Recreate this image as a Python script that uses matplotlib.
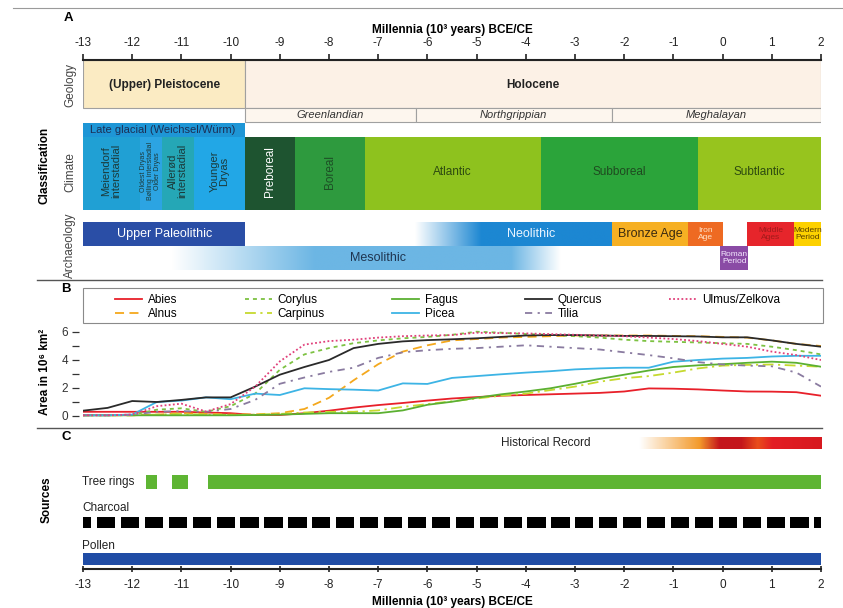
import numpy as np
import matplotlib
matplotlib.use('Agg')
import matplotlib.pyplot as plt
from matplotlib.patches import Rectangle
from matplotlib.lines import Line2D
from matplotlib.colors import LinearSegmentedColormap, to_rgb

plt.rcParams['font.family'] = ['Liberation Sans', 'DejaVu Sans']
plt.rcParams['axes.unicode_minus'] = False

W, H = 843, 608

# ---------------- classification (millennia BCE/CE) ----------------
geology_names = ['(Upper) Pleistocene', 'Holocene']
geology_start = [-13, -9.7]
geology_end = [-9.7, 2]

stage_names = ['Greenlandian', 'Northgrippian', 'Meghalayan']
stage_start = [-9.7, -6.24, -2.25]
stage_end = [-6.24, -2.25, 2]

glacial_names = ['Meiendorf\ninterstadial', 'Oldest Dryas\nBølling interstadial\nOlder Dryas',
                 'Allerød\ninterstadial', 'Younger\nDryas']
glacial_start = [-13, -11.85, -11.4, -10.75]
glacial_end = [-11.85, -11.4, -10.75, -9.7]

climate_names = ['Preboreal', 'Boreal', 'Atlantic', 'Subboreal', 'Subtlantic']
climate_start = [-9.7, -8.7, -7.27, -3.7, -0.5]
climate_end = [-8.7, -7.27, -3.7, -0.5, 2]

period_names = ['Upper Paleolithic', 'Bronze Age', 'Iron\nAge', 'Middle\nAges', 'Modern\nPeriod']
period_start = [-13, -2.25, -0.7, 0.5, 1.45]
period_end = [-9.7, -0.7, 0.0, 1.45, 2]

neolithic_span = [-6.25, -2.25]
mesolithic_span = [-11.2, -3.3]
roman_span = [-0.05, 0.52]

# ---------------- tree cover area (10^6 km2) ----------------
millennia = [-13, -12.5, -12, -11.5, -11, -10.5, -10, -9.5, -9, -8.5, -8, -7.5, -7, -6.5, -6,
             -5.5, -5, -4.5, -4, -3.5, -3, -2.5, -2, -1.5, -1, -0.5, 0, 0.5, 1, 1.5, 2]
abies = [0.3, 0.3, 0.3, 0.3, 0.3, 0.25, 0.2, 0.07, 0.07, 0.2, 0.38, 0.6, 0.78, 0.93, 1.1,
         1.25, 1.35, 1.45, 1.5, 1.55, 1.6, 1.65, 1.75, 1.97, 1.95, 1.9, 1.82, 1.75, 1.74, 1.7, 1.45]
alnus = [0.05, 0.05, 0.05, 0.1, 0.2, 0.15, 0.1, 0.12, 0.2, 0.5, 1.3, 2.55, 3.7, 4.6, 5.05,
         5.4, 5.5, 5.6, 5.65, 5.7, 5.75, 5.75, 5.75, 5.75, 5.72, 5.7, 5.65, 5.6, 5.4, 5.15, 5.0]
corylus = [0.05, 0.05, 0.08, 0.45, 0.55, 0.3, 0.7, 1.6, 3.3, 4.4, 4.85, 5.2, 5.4, 5.55, 5.65,
           5.8, 6.02, 5.95, 5.85, 5.8, 5.7, 5.6, 5.45, 5.35, 5.3, 5.25, 5.2, 5.15, 4.95, 4.7, 4.4]
carpinus = [0.05, 0.05, 0.05, 0.1, 0.15, 0.1, 0.08, 0.1, 0.15, 0.25, 0.3, 0.3, 0.4, 0.65, 0.85,
            1.05, 1.25, 1.45, 1.6, 1.85, 2.1, 2.45, 2.7, 2.85, 3.1, 3.4, 3.6, 3.65, 3.68, 3.6, 3.52]
fagus = [0.05, 0.05, 0.05, 0.05, 0.05, 0.05, 0.05, 0.07, 0.1, 0.15, 0.2, 0.2, 0.2, 0.4, 0.8,
         1.02, 1.3, 1.55, 1.75, 1.98, 2.3, 2.65, 2.95, 3.25, 3.5, 3.62, 3.7, 3.8, 3.88, 3.8, 3.52]
picea = [0.05, 0.05, 0.1, 1.0, 1.1, 1.33, 1.2, 1.6, 1.5, 1.98, 1.92, 1.88, 1.82, 2.33, 2.29,
         2.72, 2.85, 2.98, 3.1, 3.2, 3.33, 3.4, 3.45, 3.45, 3.88, 4.0, 4.1, 4.15, 4.25, 4.3, 4.3]
quercus = [0.38, 0.58, 1.07, 1.0, 1.15, 1.33, 1.33, 2.1, 2.95, 3.5, 4.0, 4.85, 5.15, 5.33, 5.42,
           5.48, 5.55, 5.65, 5.75, 5.78, 5.78, 5.75, 5.72, 5.72, 5.7, 5.68, 5.62, 5.62, 5.4, 5.15, 4.95]
tilia = [0.05, 0.05, 0.1, 0.3, 0.35, 0.3, 0.5, 1.15, 2.3, 2.75, 3.15, 3.45, 4.15, 4.55, 4.7,
         4.8, 4.85, 4.95, 5.05, 4.95, 4.85, 4.75, 4.55, 4.35, 4.12, 3.85, 3.68, 3.6, 3.55, 3.1, 2.1]
ulmus = [0.05, 0.05, 0.1, 0.7, 0.88, 0.32, 0.85, 2.1, 3.9, 5.1, 5.35, 5.45, 5.6, 5.7, 5.75,
         5.78, 5.95, 5.92, 5.9, 5.85, 5.8, 5.75, 5.7, 5.6, 5.5, 5.35, 5.15, 4.95, 4.6, 4.35, 4.0]

# ---------------- sources ----------------
tree_ring_spans = [(-11.72, 0.22), (-11.19, 0.32), (-10.46, 12.46)]
historical_span = [-1.7, 2]
pollen_span = [(-13, 15)]


def fx(px):
    return px / W


def fy(py):
    return 1 - py / H


def gradient(ax, x0, x1, y0, y1, color, xs, ws):
    # horizontal fade from white into the given colour
    x = np.linspace(x0, x1, 400)
    w = np.interp(x, xs, ws)[:, None]
    rgb = (1 - w) * np.ones(3) + w * np.array(to_rgb(color))
    ax.imshow(rgb[None, :, :], extent=(x0, x1, y1, y0), aspect='auto',
              interpolation='bilinear', zorder=1)


fig = plt.figure(figsize=(W / 100, H / 100), dpi=100)

# ======================= A: classification =======================
axA = fig.add_axes([fx(83), fy(278), fx(821) - fx(83), (278 - 60) / H])
axA.set_xlim(-13, 2)
axA.set_ylim(278, 60)

for name, s, e in zip(geology_names, geology_start, geology_end):
    fc = '#fbebc3' if 'Pleistocene' in name else '#fcf1e6'
    axA.add_patch(Rectangle((s, 60), e - s, 48, fc=fc, ec='#a0a0a0', lw=0.8))
    axA.text((s + e) / 2, 85, name, ha='center', va='center', fontsize=8.5,
             fontweight='bold', color='#222222')

for name, s, e in zip(stage_names, stage_start, stage_end):
    axA.add_patch(Rectangle((s, 108), e - s, 14, fc='#fdf6ee', ec='#a0a0a0', lw=0.8))
    axA.text((s + e) / 2, 115.5, name, ha='center', va='center', fontsize=8,
             style='italic', color='#333333')

# late glacial
axA.add_patch(Rectangle((-13, 123), 3.3, 14, fc='#1e96d6', ec='none'))
axA.text(-12.85, 130, 'Late glacial (Weichsel/Würm)', ha='left', va='center',
         fontsize=8, color='#1c2f55')
glacial_colors = ['#20a0d4', '#2ca4e2', '#25a7b6', '#22a7e6']
glacial_sizes = [8, 5, 8, 8]
for name, s, e, c, fs in zip(glacial_names, glacial_start, glacial_end, glacial_colors, glacial_sizes):
    axA.add_patch(Rectangle((s, 137), e - s, 73, fc=c, ec='none'))
    axA.text((s + e) / 2, 171, name, ha='center', va='center', rotation=90,
             fontsize=fs, color='#1b3a3a', linespacing=0.95)

climate_colors = ['#1e5430', '#2e9a3e', '#8ec21e', '#2ba43a', '#97c41e']
climate_text = ['white', '#1d4f25', '#2d4a10', '#1f4a20', '#2d4a10']
for name, s, e, c, tc in zip(climate_names, climate_start, climate_end, climate_colors, climate_text):
    axA.add_patch(Rectangle((s, 137), e - s, 73, fc=c, ec='none'))
    rot = 90 if e - s < 1.5 else 0
    axA.text((s + e) / 2, 172, name, ha='center', va='center', rotation=rot,
             fontsize=8.5, color=tc)

# archaeology
period_colors = ['#2a4ea6', '#f6b023', '#ee6a22', '#e6252b', '#fdd100']
period_text = ['white', '#3a2a10', '#ffe2c8', '#a11a1a', '#5a4000']
period_sizes = [9, 9, 6, 6, 6]
for name, s, e, c, tc, fs in zip(period_names, period_start, period_end,
                                  period_colors, period_text, period_sizes):
    axA.add_patch(Rectangle((s, 222), e - s, 24, fc=c, ec='none'))
    axA.text((s + e) / 2, 234, name, ha='center', va='center', fontsize=fs,
             color=tc, linespacing=0.95)

n0, n1 = neolithic_span
gradient(axA, n0, n1, 222, 246, '#1c87d2', [n0, n0 + 1.35], [0, 1])
axA.text(-3.9, 234, 'Neolithic', ha='center', va='center', fontsize=9, color='#eaf4ff')

m0, m1 = mesolithic_span
gradient(axA, m0, m1, 246, 270, '#6cb6e4', [m0, -8.3, -4.3, m1], [0, 1, 1, 0])
axA.text(-7.0, 258, 'Mesolithic', ha='center', va='center', fontsize=9, color='#1f3550')

r0, r1 = roman_span
axA.add_patch(Rectangle((r0, 246), r1 - r0, 24, fc='#8a4ba5', ec='none'))
axA.text((r0 + r1) / 2, 258, 'Roman\nPeriod', ha='center', va='center', fontsize=6,
         color='#f4e8ff', linespacing=0.95)

axA.set_xlim(-13, 2)
axA.set_ylim(278, 60)
axA.xaxis.tick_top()
axA.set_xticks(range(-13, 3))
axA.set_yticks([])
axA.tick_params(axis='x', direction='out', length=4, width=1.2, pad=4,
                labelsize=8.5, colors='#222222')
axA.xaxis.set_label_position('top')
axA.set_xlabel('Millennia (10³ years) BCE/CE', fontsize=8.5, fontweight='bold', labelpad=3)
for side in ['left', 'right', 'bottom']:
    axA.spines[side].set_visible(False)
axA.spines['top'].set_linewidth(1.5)
axA.spines['top'].set_color('#222222')
axA.spines['top'].set_zorder(5)

# ======================= B: tree cover =======================
axB = fig.add_axes([fx(83), fy(424), fx(821) - fx(83), (424 - 286) / H])
series = [
    ('Abies', abies, '#e8202a', '-'),
    ('Alnus', alnus, '#f4a81d', (0, (5, 3))),
    ('Corylus', corylus, '#7dc242', (0, (2.2, 2.2))),
    ('Carpinus', carpinus, '#c6d92f', (0, (6, 2.5, 1.2, 2.5))),
    ('Fagus', fagus, '#5bb031', '-'),
    ('Picea', picea, '#3db4e5', '-'),
    ('Quercus', quercus, '#2a2a2a', '-'),
    ('Tilia', tilia, '#8a7ba0', (0, (4, 3, 1.2, 3))),
    ('Ulmus/Zelkova', ulmus, '#e0407a', (0, (1, 1.3))),
]
for name, vals, c, ls in series:
    axB.plot(millennia, vals, color=c, linestyle=ls, lw=1.3, label=name)

axB.set_xlim(-13, 2)
axB.set_ylim(-(424 - 416) / 14, (416 - 286) / 14)
axB.set_xticks([])
axB.set_yticks([0, 2, 4, 6])
axB.set_yticks([1, 3, 5], minor=True)
axB.tick_params(axis='y', which='both', direction='out', length=5, width=0.9,
                pad=2.5, labelsize=8.5, colors='#333333')
for side in ['top', 'right', 'bottom', 'left']:
    axB.spines[side].set_visible(False)
axB.spines['left'].set_position(('outward', 3))

axB.legend(ncol=5, mode='expand', loc='center', frameon=False, fontsize=8.5,
           handlelength=2.3, handletextpad=0.5, labelspacing=0.15, borderaxespad=0,
           bbox_to_anchor=(fx(110), fy(324), fx(785) - fx(110), (324 - 290) / H),
           bbox_transform=fig.transFigure)
fig.add_artist(Rectangle((fx(83), fy(323)), fx(823) - fx(83), (323 - 288) / H,
                         transform=fig.transFigure, fill=False, ec='#8a8a8a', lw=0.8))

# ======================= C: sources =======================
axC = fig.add_axes([fx(83), fy(569), fx(821) - fx(83), (569 - 432) / H])
axC.set_xlim(-13, 2)
axC.set_ylim(569, 432)

h0, h1 = historical_span
hist_cmap = LinearSegmentedColormap.from_list('hist', [
    (0.0, '#ffffff'), (0.33, '#f39a2b'), (0.44, '#c4161c'), (0.56, '#c4161c'),
    (0.65, '#e94e1b'), (0.73, '#e31e24'), (1.0, '#d7191f')])
axC.imshow(np.linspace(0, 1, 400)[None, :], cmap=hist_cmap, extent=(h0, h1, 449, 437),
           aspect='auto', interpolation='bilinear')
axC.text(-3.6, 443, 'Historical Record', ha='center', va='center', fontsize=8.5, color='#222222')

axC.broken_barh(tree_ring_spans, (475, 14), facecolors='#5eb533')
axC.text(-13.02, 482, 'Tree rings', ha='left', va='center', fontsize=8.5, color='#222222')

charcoal_starts = np.arange(-13.201, 2, 0.486)
charcoal_spans = [(max(s, -13), min(s + 0.37, 2) - max(s, -13)) for s in charcoal_starts]
axC.broken_barh(charcoal_spans, (517, 11), facecolors='black')
axC.text(-13.02, 508, 'Charcoal', ha='left', va='center', fontsize=8.5, color='#222222')

axC.broken_barh(pollen_span, (553, 12), facecolors='#1f4ca5')
axC.text(-13.02, 546, 'Pollen', ha='left', va='center', fontsize=8.5, color='#222222')

axC.set_xlim(-13, 2)
axC.set_ylim(569, 432)
axC.set_xticks(range(-13, 3))
axC.set_yticks([])
axC.tick_params(axis='x', direction='inout', length=5, width=1.2, pad=5,
                labelsize=8.5, colors='#222222')
axC.set_xlabel('Millennia (10³ years) BCE/CE', fontsize=8.5, fontweight='bold', labelpad=3)
for side in ['left', 'right', 'top']:
    axC.spines[side].set_visible(False)
axC.spines['bottom'].set_linewidth(1.5)
axC.spines['bottom'].set_color('#222222')

# ======================= frame texts and rules =======================
fig.add_artist(Line2D([fx(13), 1], [fy(8), fy(8)], color='#9a9a9a', lw=0.8))
for py in [280, 428]:
    fig.add_artist(Line2D([fx(37), fx(822)], [fy(py), fy(py)], color='#555555', lw=1))

for letter, px, py in [('A', 68, 18), ('B', 66, 289), ('C', 66, 437)]:
    fig.text(fx(px), fy(py), letter, ha='center', va='center', fontsize=9.5, fontweight='bold')

fig.text(fx(45), fy(165), 'Classification', rotation=90, ha='center', va='center',
         fontsize=8.5, fontweight='bold')
fig.text(fx(47), fy(500), 'Sources', rotation=90, ha='center', va='center',
         fontsize=8.5, fontweight='bold')
fig.text(fx(45), fy(372), 'Area in 10⁶ km²', rotation=90, ha='center', va='center',
         fontsize=8.5, fontweight='bold')
for name, py in [('Geology', 85), ('Climate', 172), ('Archaeology', 245)]:
    fig.text(fx(70), fy(py), name, rotation=90, ha='center', va='center',
             fontsize=8.5, color='#444444')

fig.savefig('out.png', dpi=100)
